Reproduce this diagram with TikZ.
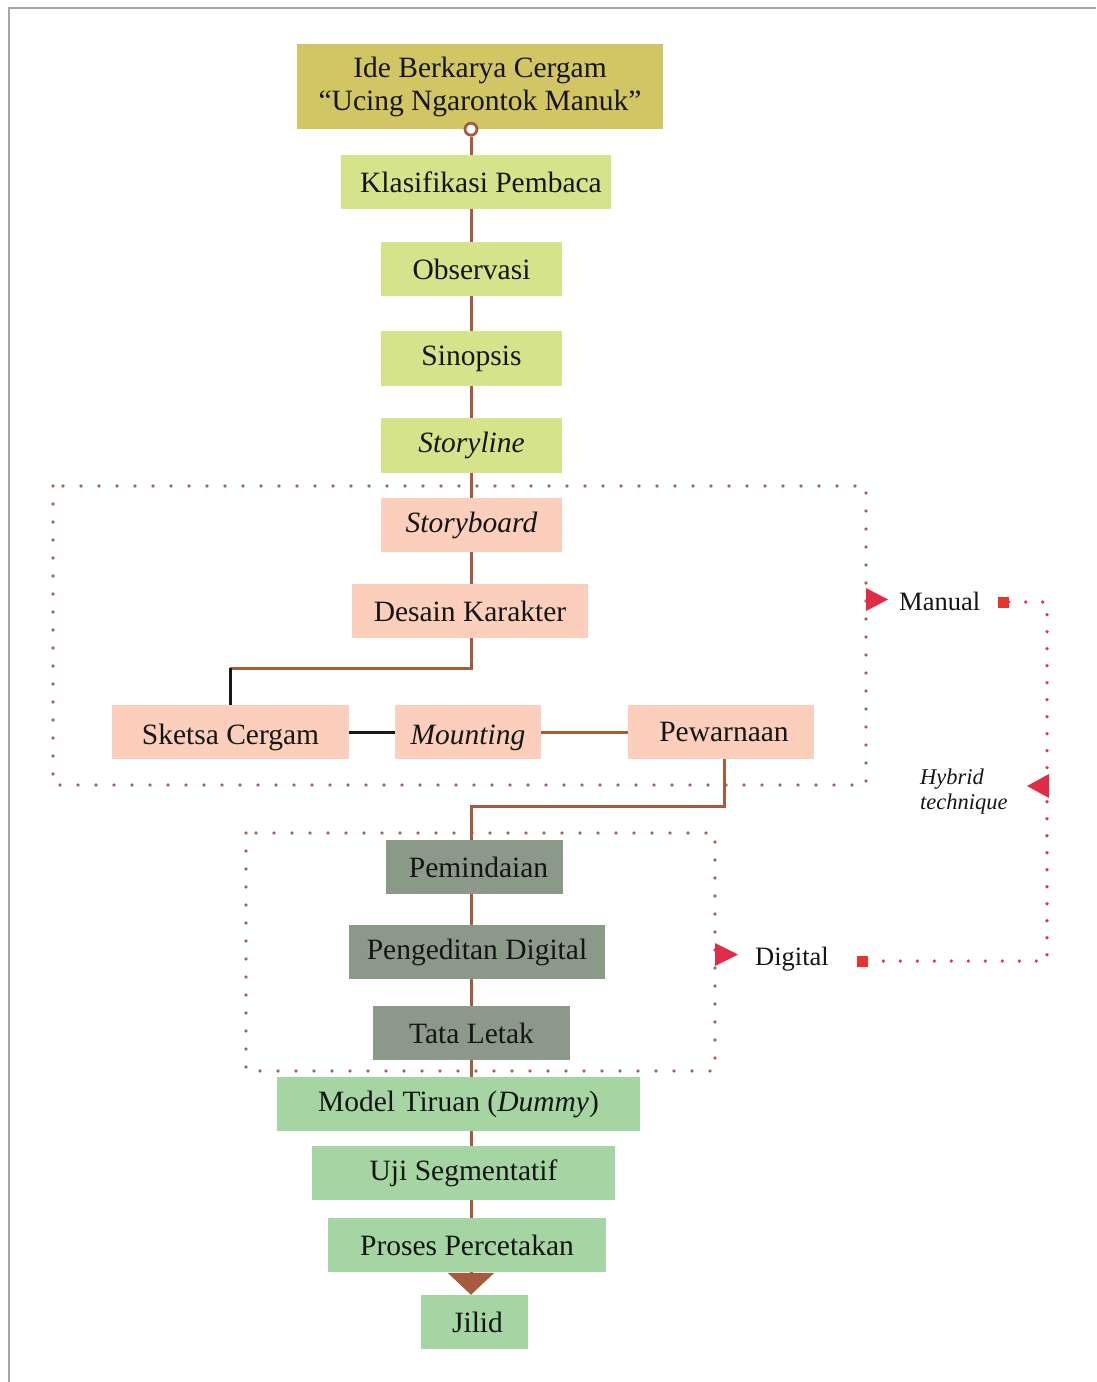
\documentclass[tikz,border=0pt]{standalone}
\usepackage{fontspec}
\setmainfont{Liberation Serif}
\usetikzlibrary{arrows.meta}
\definecolor{olive}{HTML}{D2C664}
\definecolor{ygreen}{HTML}{D5E38B}
\definecolor{salmon}{HTML}{FBCFBB}
\definecolor{ggreen}{HTML}{8B9A88}
\definecolor{lgreen}{HTML}{A5D5A2}
\definecolor{brn}{HTML}{A65A3E}
\definecolor{dotbrn}{HTML}{9E6A5A}
\definecolor{redm}{HTML}{E22C47}
\definecolor{reddot}{HTML}{D83A48}
\definecolor{redsq}{HTML}{E5352C}
\definecolor{txt}{HTML}{151515}
\begin{document}
\begin{tikzpicture}[x=1pt,y=-1pt,
  box/.style={rectangle, inner sep=0pt, text=txt, font=\fontsize{29.5}{33}\selectfont},
  conn/.style={draw=brn, line width=3pt},
  blk/.style={draw=black!90, line width=3pt},
  dotbox/.style={draw=dotbrn, line width=3.6pt, line cap=round, dash pattern=on 0pt off 18pt},
  reddots/.style={draw=reddot, line width=3.6pt, line cap=round, dash pattern=on 0pt off 17pt},
  lbl/.style={text=txt, inner sep=0pt, anchor=west, font=\fontsize{26.5}{30}\selectfont},
  sq/.style={rectangle, fill=redsq, inner sep=0pt, minimum size=11pt}
]
\useasboundingbox (0,0) rectangle (1096,1382);
\fill[white] (0,0) rectangle (1096,1382);
% frame
\draw[gray!70, line width=2pt] (9,1382) -- (9,8) -- (1096,8);

\coordinate (spine) at (471,0);

% dotted group boxes
\draw[dotbox] (53,486) rectangle (866,785);
\draw[dotbox] (246,833) rectangle (715,1071);

% nodes
\node[box, fill=olive, minimum width=366pt, minimum height=85pt, align=center] (ide) at (480,86.5) {Ide Berkarya Cergam\\``Ucing Ngarontok Manuk''};
\node[box, fill=ygreen, minimum width=270pt, minimum height=54pt] (klas) at (476,182) {\hspace*{10pt}Klasifikasi Pembaca};
\node[box, fill=ygreen, minimum width=181pt, minimum height=54pt] (obs) at (471.5,269) {Observasi};
\node[box, fill=ygreen, minimum width=181pt, minimum height=55pt] (sin) at (471.5,358.5) {Sinopsis};
\node[box, fill=ygreen, minimum width=181pt, minimum height=55pt] (styl) at (471.5,445.5) {\itshape Storyline};
\node[box, fill=salmon, minimum width=181pt, minimum height=54pt] (stb) at (471.5,525) {\itshape Storyboard};
\node[box, fill=salmon, minimum width=236pt, minimum height=54pt] (des) at (470,611) {Desain Karakter};
\node[box, fill=salmon, minimum width=237pt, minimum height=54pt] (ske) at (230.5,732) {\vphantom{Sketsa}\smash{\raisebox{-2pt}{Sketsa Cergam}}};
\node[box, fill=salmon, minimum width=146pt, minimum height=54pt] (mou) at (468,732) {\vphantom{Mounting}\smash{\raisebox{-6pt}{\itshape Mounting}}};
\node[box, fill=salmon, minimum width=186pt, minimum height=54pt] (pew) at (721,732) {\hspace*{6pt}Pewarnaan};
\node[box, fill=ggreen, minimum width=177pt, minimum height=54pt] (pem) at (474.5,867) {\hspace*{8pt}Pemindaian};
\node[box, fill=ggreen, minimum width=256pt, minimum height=54pt] (ped) at (477,952) {Pengeditan Digital};
\node[box, fill=ggreen, minimum width=197pt, minimum height=54pt] (tat) at (471.5,1033) {Tata Letak};
\node[box, fill=lgreen, minimum width=363pt, minimum height=54pt] (mod) at (458.5,1104) {Model Tiruan (\textit{Dummy})};
\node[box, fill=lgreen, minimum width=303pt, minimum height=54pt] (uji) at (463.5,1173) {Uji Segmentatif};
\node[box, fill=lgreen, minimum width=278pt, minimum height=54pt] (pro) at (467,1245) {Proses Percetakan};
\node[box, fill=lgreen, minimum width=107pt, minimum height=54pt] (jil) at (474.5,1322) {\hspace*{6pt}Jilid};

% main spine connectors
\node[circle, draw=brn, fill=white, line width=2.8pt, inner sep=0pt, minimum size=12pt] (ring) at (ide.south -| spine) {};
\draw[conn] (ring.south) -- (klas.north -| spine);
\draw[conn] (klas.south -| spine) -- (obs.north -| spine);
\draw[conn] (obs.south -| spine) -- (sin.north -| spine);
\draw[conn] (sin.south -| spine) -- (styl.north -| spine);
\draw[conn] (styl.south -| spine) -- (stb.north -| spine);
\draw[conn] (stb.south -| spine) -- (des.north -| spine);

\coordinate (b1) at (471,668);
\coordinate (b2) at (230,668);
\draw[conn] (des.south -| spine) -- (b1) -- (b2);
\draw[blk] (b2) -- (ske.north -| b2);
\draw[blk] (ske.east) -- (mou.west);
\draw[conn] (mou.east) -- (pew.west);

\coordinate (c1) at (724,806);
\coordinate (c2) at (471,806);
\draw[conn] (pew.south -| c1) -- (c1) -- (c2) -- (pem.north -| spine);
\draw[conn] (pem.south -| spine) -- (ped.north -| spine);
\draw[conn] (ped.south -| spine) -- (tat.north -| spine);
\draw[conn] (tat.south -| spine) -- (mod.north -| spine);
\draw[conn] (mod.south -| spine) -- (uji.north -| spine);
\draw[conn] (uji.south -| spine) -- (pro.north -| spine);
\draw[conn, -{Triangle[width=46pt,length=22pt]}] (pro.south -| spine) -- (jil.north -| spine);

% technique labels
\node[lbl] (man) at (899,601) {Manual};
\node[lbl] (dig) at (755,959) {Digital};
\node[text=txt, inner sep=0pt, anchor=west, align=left, font=\fontsize{22.5}{25}\selectfont\itshape] (hyb) at (920,792) {Hybrid\\technique};
\node[sq] (msq) at (1003,602) {};
\node[sq] (dsq) at (862,961) {};
\coordinate (rc) at (1047,602);
\draw[reddots] (msq.east) -- (rc) |- (dsq.east);

% triangles
\fill[redm] (866,588) -- (888,599.5) -- (866,611) -- cycle;
\fill[redm] (715,943) -- (738,954.5) -- (715,966) -- cycle;
\fill[redm] (1049,774) -- (1027,786) -- (1049,798) -- cycle;
\end{tikzpicture}
\end{document}
